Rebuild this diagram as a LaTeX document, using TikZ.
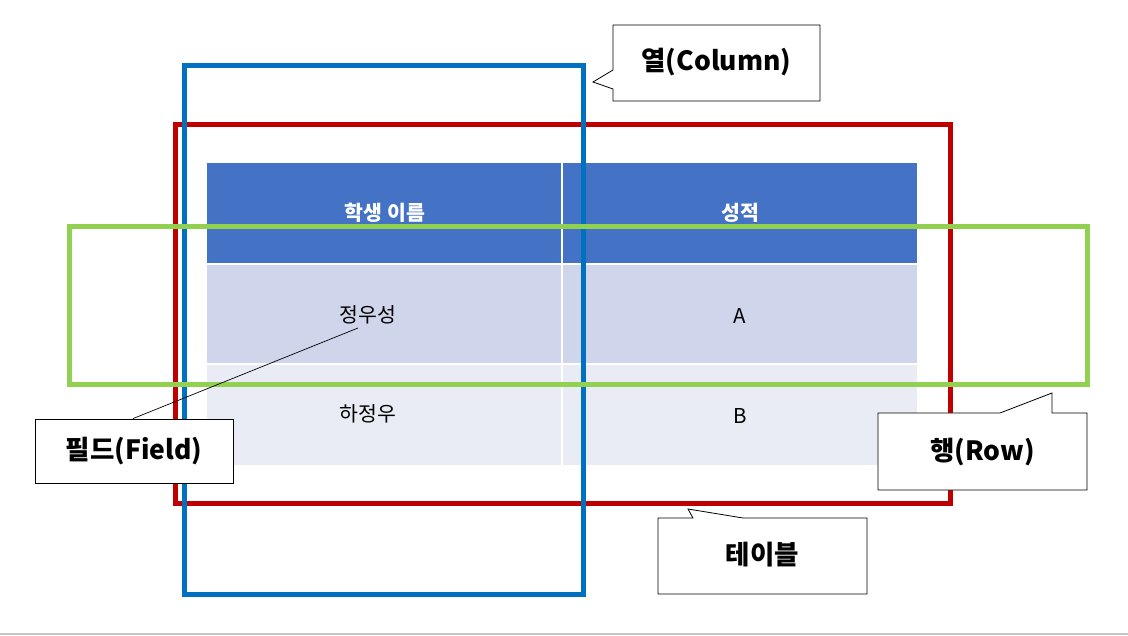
\documentclass[tikz,border=0pt]{standalone}
\usepackage{fontspec}
\setmainfont{Noto Sans CJK KR}
\begin{document}
\begin{tikzpicture}[x=1pt,y=-1pt,
  frame/.style={line width=5pt},
  callout/.style={draw=black,fill=white,line width=0.8pt},
  lbl/.style={font=\fontsize{26.5}{30}\selectfont\bfseries,text=black},
  cell/.style={font=\fontsize{20.5}{24}\selectfont,text=black},
  hcell/.style={font=\fontsize{20.5}{24}\selectfont\bfseries,text=white}]
\definecolor{hdr}{HTML}{4472C4}
\definecolor{rowa}{HTML}{CFD5EA}
\definecolor{rowb}{HTML}{E9EBF5}
\definecolor{tblred}{HTML}{C00000}
\definecolor{colblue}{HTML}{0070C0}
\definecolor{rowgreen}{HTML}{92D050}
\useasboundingbox (0,0) rectangle (1128,636);
\fill[white] (0,0) rectangle (1128,636);
\draw[gray!45,line width=1.2pt] (0,634) -- (1128,634);
% table
\fill[hdr] (207,163) rectangle (917,263);
\fill[rowa] (207,265) rectangle (917,363);
\fill[rowb] (207,365) rectangle (917,465);
\draw[white,line width=1.5pt] (562,163) -- (562,465);
\node[hcell] (h1) at (385,213) {학생 이름};
\node[hcell] (h2) at (740,213) {성적};
\node[cell] (c11) at (368,315) {정우성};
\node[cell] (c12) at (740,316) {A};
\node[cell] (c21) at (368,414) {하정우};
\node[cell] (c22) at (740,416) {B};
% frames
\draw[frame,tblred] (175,125) rectangle (950,503);
\draw[frame,colblue] (184,66) rectangle (583,594);
\draw[frame,rowgreen] (69,227) rectangle (1087,385);
% callouts
\draw[callout] (613,25) -- (820,25) -- (820,101) -- (613,101) -- (613,89) -- (593,82) -- (613,70) -- cycle;
\node[lbl] (col) at (716.5,62) {열(Column)};
\draw[callout] (878,413) -- (1000,413) -- (1052,393) -- (1052,413) -- (1087,413) -- (1087,490) -- (878,490) -- cycle;
\node[lbl] (row) at (982.5,452) {행(Row)};
\draw[callout] (658,518) -- (693,518) -- (688,509) -- (743,518) -- (867,518) -- (867,594) -- (658,594) -- cycle;
\node[lbl] (tbl) at (762.5,555) {테이블};
\node[callout,lbl,minimum width=198pt,minimum height=64pt,inner sep=0pt] (fld) at (134,451) {필드(Field)};
\coordinate (fp) at (358,328);
\draw[black,line width=0.7pt] ([xshift=-1pt]fld.north) -- (fp);
\end{tikzpicture}
\end{document}
